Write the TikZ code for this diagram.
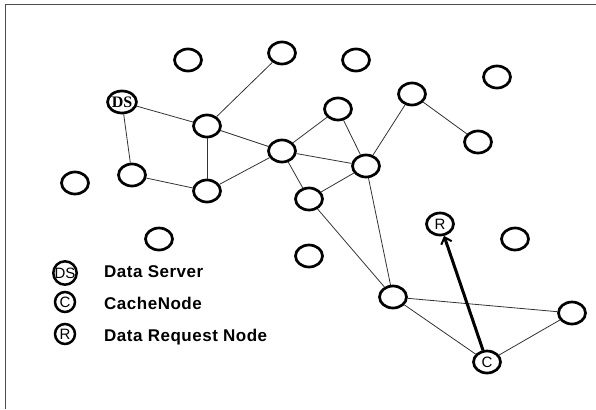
\documentclass[tikz,border=0pt]{standalone}
\usepackage{fontspec}
\setmainfont{Liberation Sans}
\newfontfamily\keyfont[LetterSpace=3]{Liberation Sans}
\newfontfamily\dsfont{Liberation Serif}
\usepackage{xcolor}
\usetikzlibrary{arrows.meta, shapes.geometric}

\begin{document}
\begin{tikzpicture}[x=1pt, y=-1pt,
    host/.style={ellipse, draw, line width=2.7pt, minimum width=27pt, minimum height=22pt, inner sep=0pt, font=\fontsize{15}{15}\selectfont},
    keyhost/.style={circle, draw, line width=2.5pt, minimum size=20pt, inner sep=0pt, font=\fontsize{15}{15}\selectfont},
    keytext/.style={anchor=west, inner sep=0pt, font=\keyfont\bfseries\fontsize{17}{17}\selectfont},
    link/.style={line width=0.8pt, black!80}]
    \useasboundingbox (0,0) rectangle (596,409);
    \draw[line width=1.5pt, black!70] (5.5,409) -- (5.5,4.5) -- (596,4.5);

    % nodes of the network
    \node[host] (n1) at (188,60) {};
    \node[host] (n2) at (282,53) {};
    \node[host] (n3) at (356,60) {};
    \node[host] (n4) at (497,77) {};
    \node[host, font=\dsfont\bfseries\fontsize{16}{16}\selectfont] (ds) at (122,102) {DS};
    \node[host] (n5) at (207,126) {};
    \node[host] (n6) at (338,109) {};
    \node[host] (n7) at (412,94) {};
    \node[host] (n8) at (282,151) {};
    \node[host] (n9) at (366,166) {};
    \node[host] (n10) at (478,142) {};
    \node[host] (n11) at (75,183) {};
    \node[host] (n12) at (132,175) {};
    \node[host] (n13) at (207,191) {};
    \node[host] (n14) at (309,199) {};
    \node[host] (n15) at (159,239) {};
    \node[host] (n16) at (309,256) {};
    \node[host] (req) at (440,224) {R};
    \node[host] (n17) at (515,239) {};
    \node[host] (n18) at (393,297) {};
    \node[host] (n19) at (572,313) {};
    \node[host] (cache) at (487,362) {C};

    \draw[link] (ds) -- (n5);
    \draw[link] (ds) -- (n12);
    \draw[link] (n5) -- (n2);
    \draw[link] (n5) -- (n13);
    \draw[link] (n5) -- (n8);
    \draw[link] (n12) -- (n13);
    \draw[link] (n13) -- (n8);
    \draw[link] (n8) -- (n6);
    \draw[link] (n8) -- (n9);
    \draw[link] (n8) -- (n14);
    \draw[link] (n6) -- (n9);
    \draw[link] (n9) -- (n7);
    \draw[link] (n7) -- (n10);
    \draw[link] (n9) -- (n14);
    \draw[link] (n9) -- (n18);
    \draw[link] (n14) -- (n18);
    \draw[link] (n18) -- (n19);
    \draw[link] (n18) -- (cache);
    \draw[link] (cache) -- (n19);

    \draw[-{Straight Barb[length=6pt, width=11pt, line width=2pt]}, line width=3pt] (cache) -- (req);

    % legend
    \node[keyhost] (keyds) at (65,273) {DS};
    \node[keyhost] (keyc) at (65,302) {C};
    \node[keyhost] (keyr) at (65,334) {R};
    \node[keytext] (txtds) at (104,272) {Data Server};
    \node[keytext] (txtc) at (104,303) {CacheNode};
    \node[keytext] (txtr) at (104,337) {Data Request Node};
\end{tikzpicture}
\end{document}
